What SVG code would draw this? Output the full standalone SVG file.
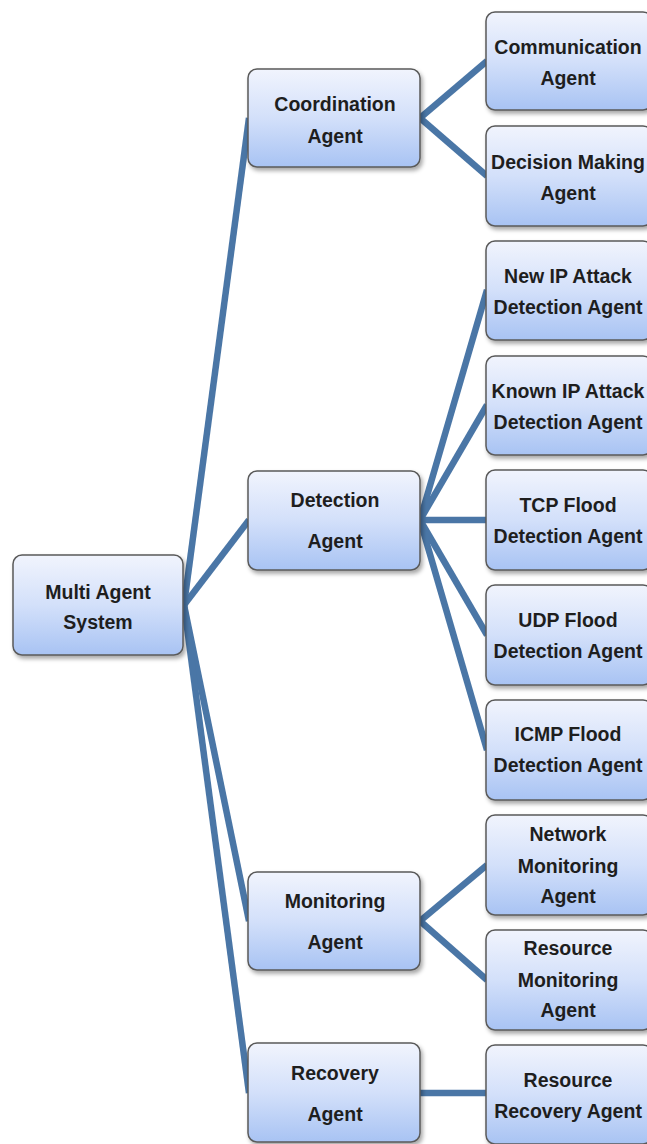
<svg xmlns="http://www.w3.org/2000/svg" width="647" height="1144" viewBox="0 0 647 1144">
<defs>
<linearGradient id="g" x1="0" y1="0" x2="0" y2="1">
<stop offset="0" stop-color="#f1f4fd"/>
<stop offset="0.5" stop-color="#d3e0fa"/>
<stop offset="1" stop-color="#a8c3f3"/>
</linearGradient>
<filter id="sh" x="-10%" y="-10%" width="125%" height="130%">
<feDropShadow dx="2" dy="3" stdDeviation="2" flood-color="#000" flood-opacity="0.35"/>
</filter>
</defs>
<style>
.box{fill:url(#g);stroke:#5a5a5a;stroke-width:1.5;filter:url(#sh)}
.t{font-family:"Liberation Sans",Arial,sans-serif;font-weight:bold;font-size:19.5px;fill:#1e1e1e;text-anchor:middle}
.c{stroke:#4a76a6;stroke-width:6.5;fill:none;stroke-linecap:butt}
</style>
<rect width="647" height="1144" fill="#fff"/>
<g id="connectors">
<line class="c" x1="184" y1="605" x2="249" y2="118"/>
<line class="c" x1="184" y1="605" x2="249" y2="520"/>
<line class="c" x1="184" y1="605" x2="249" y2="921"/>
<line class="c" x1="184" y1="605" x2="249" y2="1093"/>
<line class="c" x1="420" y1="118" x2="487" y2="61"/>
<line class="c" x1="420" y1="118" x2="487" y2="176"/>
<line class="c" x1="420" y1="520" x2="487" y2="290"/>
<line class="c" x1="420" y1="520" x2="487" y2="405"/>
<line class="c" x1="420" y1="520" x2="487" y2="520"/>
<line class="c" x1="420" y1="520" x2="487" y2="635"/>
<line class="c" x1="420" y1="520" x2="487" y2="750"/>
<line class="c" x1="420" y1="921" x2="487" y2="865"/>
<line class="c" x1="420" y1="921" x2="487" y2="980"/>
<line class="c" x1="420" y1="1093" x2="487" y2="1093"/>
</g>
<g id="root">
<rect class="box" x="13" y="555" width="170" height="100" rx="9"/>
<text class="t" x="98" y="599">Multi Agent</text>
<text class="t" x="98" y="629">System</text>
</g>
<g id="coordination">
<rect class="box" x="248" y="69" width="172" height="98" rx="9"/>
<text class="t" x="335" y="111">Coordination</text>
<text class="t" x="335" y="143">Agent</text>
</g>
<g id="detection">
<rect class="box" x="248" y="471" width="172" height="99" rx="9"/>
<text class="t" x="335" y="507">Detection</text>
<text class="t" x="335" y="548">Agent</text>
</g>
<g id="monitoring">
<rect class="box" x="248" y="872" width="172" height="98" rx="9"/>
<text class="t" x="335" y="908">Monitoring</text>
<text class="t" x="335" y="949">Agent</text>
</g>
<g id="recovery">
<rect class="box" x="248" y="1043" width="172" height="99" rx="9"/>
<text class="t" x="335" y="1080">Recovery</text>
<text class="t" x="335" y="1121">Agent</text>
</g>
<g id="communication">
<rect class="box" x="486" y="12" width="166" height="98" rx="9"/>
<text class="t" x="568" y="54">Communication</text>
<text class="t" x="568" y="85">Agent</text>
</g>
<g id="decision">
<rect class="box" x="486" y="126" width="166" height="100" rx="9"/>
<text class="t" x="568" y="169">Decision Making</text>
<text class="t" x="568" y="200">Agent</text>
</g>
<g id="newip">
<rect class="box" x="486" y="241" width="166" height="99" rx="9"/>
<text class="t" x="568" y="283">New IP Attack</text>
<text class="t" x="568" y="314">Detection Agent</text>
</g>
<g id="knownip">
<rect class="box" x="486" y="356" width="166" height="99" rx="9"/>
<text class="t" x="568" y="398">Known IP Attack</text>
<text class="t" x="568" y="429">Detection Agent</text>
</g>
<g id="tcp">
<rect class="box" x="486" y="470" width="166" height="100" rx="9"/>
<text class="t" x="568" y="512">TCP Flood</text>
<text class="t" x="568" y="543">Detection Agent</text>
</g>
<g id="udp">
<rect class="box" x="486" y="585" width="166" height="100" rx="9"/>
<text class="t" x="568" y="627">UDP Flood</text>
<text class="t" x="568" y="658">Detection Agent</text>
</g>
<g id="icmp">
<rect class="box" x="486" y="700" width="166" height="100" rx="9"/>
<text class="t" x="568" y="741">ICMP Flood</text>
<text class="t" x="568" y="772">Detection Agent</text>
</g>
<g id="netmon">
<rect class="box" x="486" y="815" width="166" height="100" rx="9"/>
<text class="t" x="568" y="841">Network</text>
<text class="t" x="568" y="873">Monitoring</text>
<text class="t" x="568" y="903">Agent</text>
</g>
<g id="resmon">
<rect class="box" x="486" y="930" width="166" height="100" rx="9"/>
<text class="t" x="568" y="955">Resource</text>
<text class="t" x="568" y="987">Monitoring</text>
<text class="t" x="568" y="1017">Agent</text>
</g>
<g id="resrec">
<rect class="box" x="486" y="1045" width="166" height="99" rx="9"/>
<text class="t" x="568" y="1087">Resource</text>
<text class="t" x="568" y="1118">Recovery Agent</text>
</g>
</svg>
